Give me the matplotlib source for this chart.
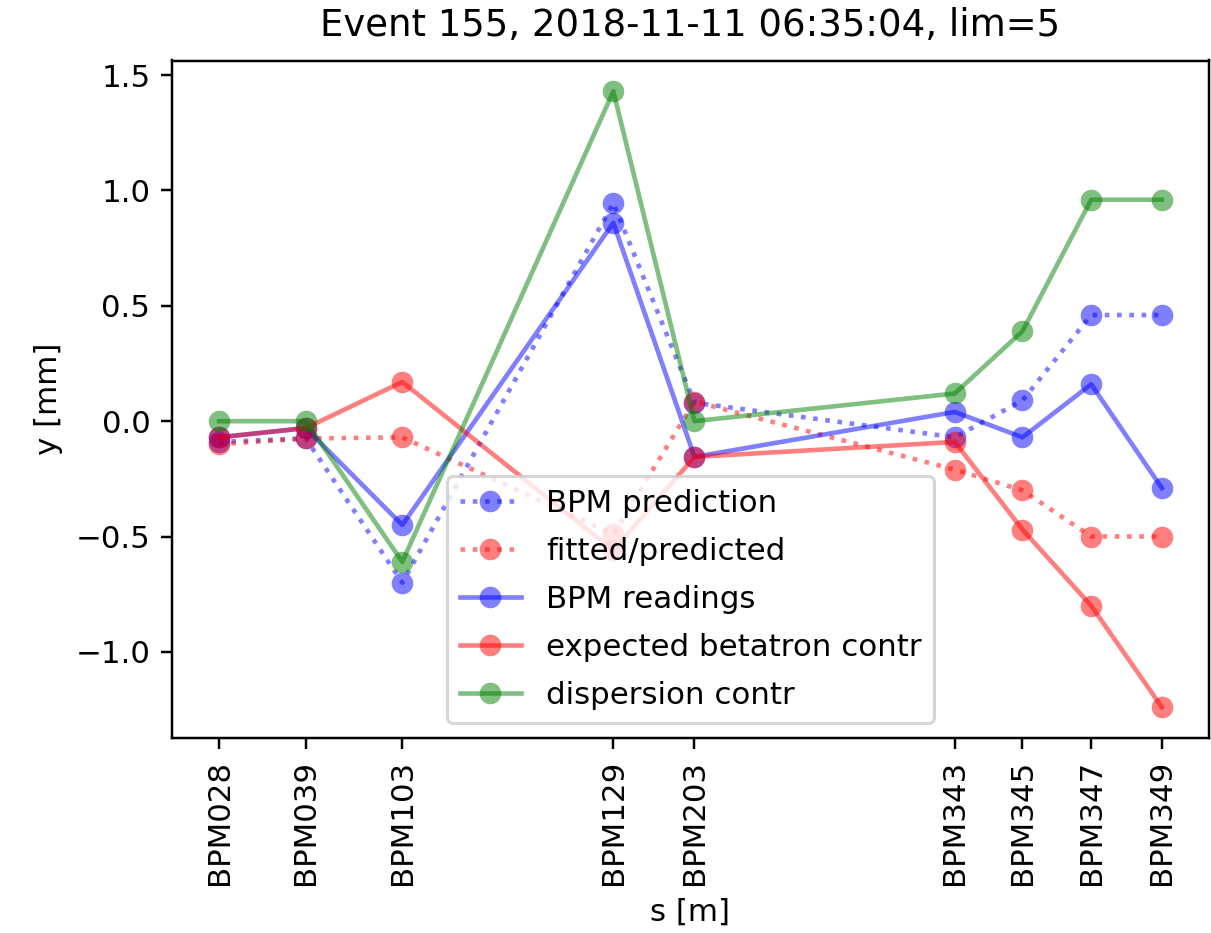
import matplotlib
matplotlib.use('Agg')
import matplotlib.pyplot as plt

# BPM names and their s positions along the line [m]
bpm_names = ['BPM028', 'BPM039', 'BPM103', 'BPM129', 'BPM203',
             'BPM343', 'BPM345', 'BPM347', 'BPM349']
s_pos = [28.4, 37.1, 46.8, 68.0, 76.15, 102.3, 109.1, 116.0, 123.1]

# vertical offsets [mm]
bpm_prediction = [-0.09, -0.075, -0.70, 0.945, 0.08, -0.07, 0.09, 0.46, 0.46]
fitted_predicted = [-0.10, -0.075, -0.07, -0.49, 0.085, -0.21, -0.30, -0.50, -0.50]
bpm_readings = [-0.07, -0.03, -0.45, 0.86, -0.155, 0.04, -0.07, 0.16, -0.29]
betatron_contr = [-0.07, -0.03, 0.17, -0.56, -0.155, -0.09, -0.47, -0.80, -1.24]
dispersion_contr = [0.0, 0.0, -0.61, 1.43, 0.0, 0.12, 0.39, 0.96, 0.96]

title = 'Event 155, 2018-11-11 06:35:04, lim=5'

dpi = 222
fig = plt.figure(figsize=(1211 / dpi, 933 / dpi), dpi=dpi)
ax = fig.add_axes([172 / 1211, 1 - 738 / 933, 1037 / 1211, 677.5 / 933])

mk = dict(alpha=0.5, markersize=7, markeredgewidth=0)
ax.plot(s_pos, bpm_prediction, 'b:o', label='BPM prediction', **mk)
ax.plot(s_pos, fitted_predicted, 'r:o', label='fitted/predicted', **mk)
ax.plot(s_pos, bpm_readings, 'b-o', label='BPM readings', **mk)
ax.plot(s_pos, betatron_contr, 'r-o', label='expected betatron contr', **mk)
ax.plot(s_pos, dispersion_contr, 'g-o', label='dispersion contr', **mk)

ax.set_xticks(s_pos)
ax.set_xticklabels(bpm_names, rotation=90)
ax.set_xlabel('s [m]')
ax.set_ylabel('y [mm]')
ax.set_title(title, pad=8)
ax.legend(loc='lower center', labelspacing=0.62)

fig.savefig('out.png', dpi=dpi)
